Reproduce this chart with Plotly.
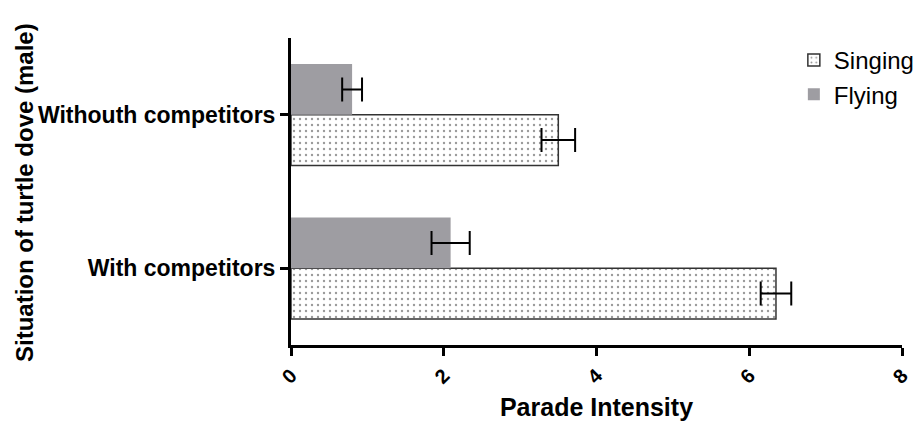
import plotly.graph_objects as go

categories = ["With competitors", "Withouth competitors"]
singing = [6.35, 3.50]
singing_err = [0.20, 0.22]
flying = [2.09, 0.80]
flying_err = [0.25, 0.13]
x_ticks = [0, 2, 4, 6, 8]

fig = go.Figure()
fig.add_trace(go.Bar(
    y=categories, x=singing, orientation="h", name="Singing",
    marker=dict(color="white", line=dict(color="#333333", width=1.5),
                pattern=dict(shape=".", fgcolor="#333333", bgcolor="white", size=6, solidity=0.12)),
    error_x=dict(type="data", array=singing_err, visible=True, color="black", thickness=2, width=12),
    legendgroup="a",
))
fig.add_trace(go.Bar(
    y=categories, x=flying, orientation="h", name="Flying",
    marker=dict(color="#9e9da2", line=dict(width=0)),
    error_x=dict(type="data", array=flying_err, visible=True, color="black", thickness=2, width=12),
    legendgroup="b",
))

font_family = "Liberation Sans, Arial, sans-serif"
fig.update_layout(
    width=918, height=421,
    margin=dict(l=291, r=16, t=38, b=76, autoexpand=False),
    plot_bgcolor="white", paper_bgcolor="white",
    barmode="group", bargap=0.34, bargroupgap=0.0,
    showlegend=True,
    legend=dict(x=0.823, y=1.0, xanchor="left", yanchor="top", traceorder="normal",
                tracegroupgap=4, font=dict(family=font_family, size=24, color="black"),
                bgcolor="rgba(0,0,0,0)"),
    font=dict(family=font_family, color="black"),
    annotations=[dict(
        text="<b>Situation of turtle dove (male)</b>", textangle=-90,
        xref="paper", yref="paper", x=(24 - 291) / 611, y=(345 - 193) / 307,
        xanchor="center", yanchor="middle", showarrow=False,
        font=dict(family=font_family, size=24, color="black"),
    )],
)
fig.update_xaxes(
    range=[0, 8], tickvals=x_ticks, ticktext=["<b>%d</b>" % v for v in x_ticks],
    tickangle=-45, showline=True, linecolor="black", linewidth=3,
    ticks="outside", ticklen=8, tickwidth=2.5, tickcolor="black",
    showgrid=False, zeroline=False, automargin=False,
    tickfont=dict(family=font_family, size=20, color="black"),
    title=dict(text="<b>Parade Intensity</b>", font=dict(family=font_family, size=25, color="black"), standoff=14),
)
fig.update_yaxes(
    type="category", categoryorder="array", categoryarray=categories,
    range=[-0.5, 1.5], showline=True, linecolor="black", linewidth=3,
    ticks="outside", ticklen=8, tickwidth=2.5, tickcolor="black",
    showgrid=False, zeroline=False, automargin=False,
    tickfont=dict(family=font_family, size=23, color="black"),
    ticklabelstandoff=0,
)
fig.update_yaxes(tickprefix="<b>", ticksuffix="</b>")

fig.write_html("out.html")
